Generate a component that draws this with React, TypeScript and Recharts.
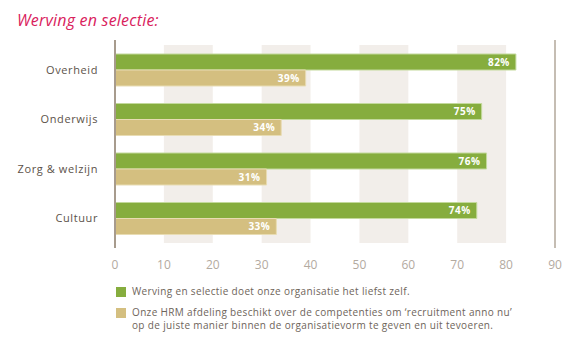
import { BarChart, Bar, XAxis, YAxis, ReferenceArea, ReferenceLine, LabelList } from 'recharts'

const categories = ['Overheid', 'Onderwijs', 'Zorg & welzijn', 'Cultuur']
const zelfValues = [82, 75, 76, 74]
const hrmValues = [39, 34, 31, 33]
const xTicks = [0, 10, 20, 30, 40, 50, 60, 70, 80, 90]
const bands = [[10, 20], [30, 40], [50, 60], [70, 80]]
const legendLabels = [
  'Werving en selectie doet onze organisatie het liefst zelf.',
  'Onze HRM afdeling beschikt over de competenties om ‘recruitment anno nu’ op de juiste manier binnen de organisatievorm te geven en uit tevoeren.',
]

const GREEN = '#86ad3e'
const TAN = '#d4bf80'
const FONT = '"Open Sans", Lato, sans-serif'

const data = categories.map((name, i) => ({
  name,
  zelf: zelfValues[i],
  hrm: hrmValues[i],
}))

function LegendBlock() {
  const colors = [GREEN, TAN]
  return (
    <div
      style={{
        position: 'absolute',
        left: 116,
        top: 285,
        fontFamily: FONT,
        fontSize: 10,
        color: '#6e645a',
        letterSpacing: 0.35,
      }}
    >
      {legendLabels.map((label, i) => (
        <div key={i} style={{ display: 'flex', alignItems: 'flex-start', marginBottom: 8 }}>
          <span style={{ width: 10, height: 10, background: colors[i], marginTop: 2, marginRight: 6, flexShrink: 0 }} />
          <span style={{ width: 392, lineHeight: '13px' }}>{label}</span>
        </div>
      ))}
    </div>
  )
}

export default function App() {
  return (
    <div style={{ position: 'absolute', left: 0, top: 0, width: 586, height: 349, background: '#fff' }}>
      <div
        style={{
          position: 'absolute',
          left: 17,
          top: 9,
          fontFamily: FONT,
          fontStyle: 'italic',
          fontSize: 16,
          color: '#d9215c',
          letterSpacing: 0.2,
        }}
      >
        Werving en selectie:
      </div>
      <BarChart
        width={586}
        height={349}
        data={data}
        layout="vertical"
        margin={{ top: 40, right: 31, left: 0, bottom: 71 }}
        barSize={16}
        barGap={0}
      >
        {bands.map(([a, b]) => (
          <ReferenceArea key={a} x1={a} x2={b} fill="#f2eeea" fillOpacity={1} stroke="none" ifOverflow="visible" />
        ))}
        <XAxis
          type="number"
          domain={[0, 90]}
          ticks={xTicks}
          axisLine={false}
          tickLine={false}
          tickSize={0}
          tickMargin={12}
          height={30}
          tick={{ fill: '#b3aa9f', fontSize: 12, fontFamily: FONT }}
        />
        <YAxis
          type="category"
          dataKey="name"
          width={115}
          axisLine={false}
          tickLine={false}
          tickSize={0}
          tickMargin={17}
          padding={{ top: 5, bottom: 5 }}
          tick={{ fill: '#5c5249', fontSize: 11, fontFamily: FONT, letterSpacing: 0.6 }}
        />
        <ReferenceLine x={0} stroke="#a79b8d" strokeWidth={2} />
        <ReferenceLine x={90} stroke="#c5bdb3" strokeWidth={2} />
        <Bar dataKey="zelf" fill={GREEN} stroke="#c3d99c" strokeWidth={1} isAnimationActive={false}>
          <LabelList
            dataKey="zelf"
            position="insideRight"
            offset={6}
            formatter={(v: number) => `${v}%`}
            style={{ fill: '#fff', fontSize: 10, fontWeight: 700, fontFamily: FONT, letterSpacing: 0.5 }}
          />
        </Bar>
        <Bar dataKey="hrm" fill={TAN} stroke="#e8dcb3" strokeWidth={1} isAnimationActive={false}>
          <LabelList
            dataKey="hrm"
            position="insideRight"
            offset={6}
            formatter={(v: number) => `${v}%`}
            style={{ fill: '#fff', fontSize: 10, fontWeight: 700, fontFamily: FONT, letterSpacing: 0.5 }}
          />
        </Bar>
      </BarChart>
      <LegendBlock />
    </div>
  )
}
